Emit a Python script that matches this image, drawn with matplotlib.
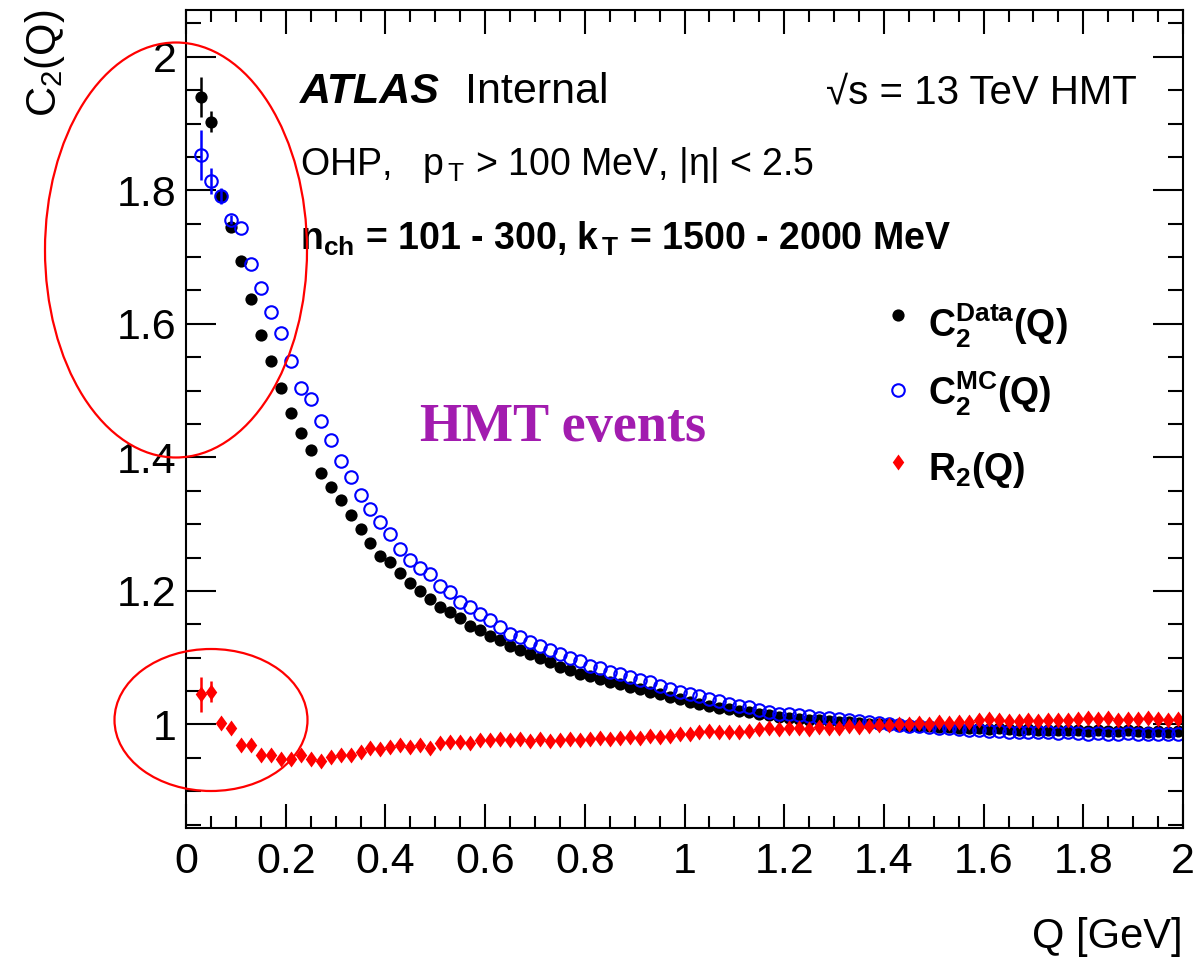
import numpy as np
import matplotlib
matplotlib.use("Agg")
import matplotlib.pyplot as plt
from matplotlib.patches import Ellipse
from matplotlib.ticker import MultipleLocator, FuncFormatter

plt.rcParams['font.family'] = ['Liberation Sans', 'DejaVu Sans']
plt.rcParams['mathtext.fontset'] = 'custom'
plt.rcParams['mathtext.rm'] = 'Liberation Sans'
plt.rcParams['mathtext.it'] = 'Liberation Sans:italic'
plt.rcParams['mathtext.bf'] = 'Liberation Sans:bold'

# bin centres of the 20 MeV Q bins
q = np.round(np.arange(0.03, 2.0, 0.02), 2)

c2_data = [1.940, 1.903, 1.792, 1.745, 1.694, 1.637, 1.583, 1.544, 1.504, 1.466,
           1.437, 1.411, 1.376, 1.355, 1.336, 1.313, 1.293, 1.272, 1.253, 1.243,
           1.227, 1.212, 1.200, 1.188, 1.176, 1.168, 1.160, 1.148, 1.142, 1.133,
           1.126, 1.117, 1.111, 1.105, 1.100, 1.093, 1.086, 1.081, 1.076, 1.073,
           1.068, 1.064, 1.060, 1.056, 1.053, 1.048, 1.045, 1.041, 1.038, 1.034,
           1.031, 1.028, 1.025, 1.023, 1.020, 1.019, 1.016, 1.014, 1.011, 1.010,
           1.008, 1.007, 1.006, 1.005, 1.004, 1.003, 1.002, 1.001, 1.000, 1.000,
           0.999, 0.998, 0.998, 0.997, 0.996, 0.996, 0.995, 0.995, 0.994, 0.993,
           0.994, 0.993, 0.992, 0.993, 0.992, 0.991, 0.992, 0.991, 0.991, 0.990,
           0.991, 0.990, 0.990, 0.991, 0.990, 0.989, 0.990, 0.989, 0.990]

c2_mc = [1.853, 1.814, 1.791, 1.756, 1.743, 1.689, 1.654, 1.617, 1.586, 1.544,
         1.504, 1.488, 1.454, 1.426, 1.394, 1.371, 1.344, 1.322, 1.303, 1.286,
         1.263, 1.246, 1.235, 1.226, 1.207, 1.198, 1.183, 1.176, 1.166, 1.157,
         1.146, 1.136, 1.131, 1.123, 1.118, 1.112, 1.106, 1.100, 1.095, 1.088,
         1.085, 1.079, 1.075, 1.071, 1.066, 1.063, 1.058, 1.053, 1.048, 1.045,
         1.043, 1.038, 1.035, 1.030, 1.028, 1.026, 1.021, 1.019, 1.016, 1.015,
         1.014, 1.012, 1.010, 1.009, 1.008, 1.006, 1.005, 1.004, 1.002, 1.001,
         0.999, 0.998, 0.997, 0.996, 0.994, 0.994, 0.993, 0.992, 0.991, 0.990,
         0.990, 0.989, 0.989, 0.988, 0.989, 0.988, 0.987, 0.988, 0.987, 0.986,
         0.987, 0.986, 0.986, 0.987, 0.986, 0.985, 0.986, 0.985, 0.986]

r2 = [1.045, 1.049, 1.002, 0.994, 0.970, 0.969, 0.955, 0.954, 0.948, 0.949,
      0.955, 0.948, 0.946, 0.951, 0.955, 0.954, 0.959, 0.965, 0.964, 0.966,
      0.970, 0.967, 0.969, 0.965, 0.973, 0.974, 0.974, 0.973, 0.976, 0.976,
      0.978, 0.976, 0.978, 0.975, 0.978, 0.975, 0.976, 0.978, 0.976, 0.978,
      0.980, 0.978, 0.979, 0.981, 0.980, 0.983, 0.981, 0.983, 0.985, 0.986,
      0.988, 0.990, 0.989, 0.988, 0.988, 0.990, 0.993, 0.995, 0.993, 0.995,
      0.994, 0.993, 0.996, 0.995, 0.995, 0.997, 0.996, 0.998, 0.999, 0.999,
      1.000, 1.001, 1.002, 1.001, 1.003, 1.002, 1.004, 1.003, 1.006, 1.008,
      1.006, 1.005, 1.005, 1.006, 1.005, 1.006, 1.007, 1.006, 1.008, 1.009,
      1.008, 1.009, 1.007, 1.008, 1.008, 1.009, 1.008, 1.007, 1.008]

# stat. errors, only big enough to see in the first bins
err_data = [0.030, 0.015, 0.010, 0.006]
err_mc = [0.038, 0.019, 0.012, 0.007]
err_r2 = [0.026, 0.016, 0.006, 0.004]

fig = plt.figure(figsize=(11.98, 9.71), dpi=100)
ax = fig.add_axes([0.1553, 0.1473, 0.8322, 0.8424])

# ROOT-like diamond, a bit fatter than matplotlib's 'd'
diamond = [(-0.36, 0.0), (0.0, 0.5), (0.36, 0.0), (0.0, -0.5), (-0.36, 0.0)]
data_style = dict(marker='o', color='black', ms=8.8, mew=0, ls='none')
mc_style = dict(marker='o', mfc='none', mec='blue', ms=9.0, mew=1.5, ls='none')
r2_style = dict(marker=diamond, color='red', ms=11.5, mew=0, ls='none')

n = len(err_data)
ax.errorbar(q[:n], c2_data[:n], yerr=err_data, fmt='none', ecolor='black', elinewidth=1.8)
ax.plot(q, c2_data, **data_style)
ax.errorbar(q[:n], c2_mc[:n], yerr=err_mc, fmt='none', ecolor='blue', elinewidth=1.8)
ax.plot(q, c2_mc, **mc_style)
ax.errorbar(q[:n], r2[:n], yerr=err_r2, fmt='none', ecolor='red', elinewidth=1.8)
ax.plot(q, r2, **r2_style)

ax.set_xlim(0, 2)
ax.set_ylim(0.845, 2.07)
ax.xaxis.set_major_locator(MultipleLocator(0.2))
ax.xaxis.set_minor_locator(MultipleLocator(0.05))
ax.yaxis.set_major_locator(MultipleLocator(0.2))
ax.yaxis.set_minor_locator(MultipleLocator(0.05))
fmt = FuncFormatter(lambda v, p: '%g' % round(v, 2))
ax.xaxis.set_major_formatter(fmt)
ax.yaxis.set_major_formatter(fmt)

ax.tick_params(which='both', direction='in', top=True, right=True, width=1.5, labelsize=31)
ax.tick_params(axis='y', which='major', length=21.6, pad=7)
ax.tick_params(axis='y', which='minor', length=10.8)
ax.tick_params(axis='x', which='major', length=17, pad=10)
ax.tick_params(axis='x', which='minor', length=8.6)
for s in ax.spines.values():
    s.set_linewidth(1.5)

ax.text(-0.141, 1.0, r'C$_2$(Q)', rotation=90, ha='center', va='top',
        fontsize=30, transform=ax.transAxes)
ax.text(1.0, -0.133, 'Q [GeV]', ha='right', va='center', fontsize=30, transform=ax.transAxes)

# ATLAS labels
ax.text(0.114, 0.886, 'ATLAS', fontsize=31, fontweight='bold', style='italic',
        transform=ax.transAxes)
ax.text(0.280, 0.886, 'Internal', fontsize=31, transform=ax.transAxes)
ax.text(0.954, 0.886, '√s = 13 TeV HMT', fontsize=29, ha='right', transform=ax.transAxes)
ax.text(0.114, 0.798, r'OHP,   p$_{\,\mathrm{T}}$ > 100 MeV, |η| < 2.5', fontsize=27,
        transform=ax.transAxes)
ax.text(0.114, 0.707, r'$\mathbf{n_{ch}}$ = 101 - 300, $\mathbf{k_{\,T}}$ = 1500 - 2000 MeV',
        fontsize=27, fontweight='bold', transform=ax.transAxes)

ax.text(0.235, 0.473, 'HMT events', fontsize=39, fontweight='bold', color='#A21CAF',
        family='Liberation Serif', transform=ax.transAxes)

# legend
leg_rows = [(0.627, 0.600, data_style, r'$\mathbf{C_2^{Data}(Q)}$'),
            (0.535, 0.516, mc_style, r'$\mathbf{C_2^{MC}(Q)}$'),
            (0.447, 0.425, r2_style, r'$\mathbf{R_2(Q)}$')]
for ym, yt, style, lab in leg_rows:
    ax.plot([0.714], [ym], transform=ax.transAxes, clip_on=False, **style)
    ax.text(0.744, yt, lab, fontsize=27, transform=ax.transAxes)

# red circles drawn on top of the plot
for cx, cy, w, h in [(176, 250, 262, 415), (211, 720, 193, 142)]:
    fig.add_artist(Ellipse((cx / 1198, 1 - cy / 971), w / 1198, h / 971,
                           transform=fig.transFigure, fill=False, ec='red', lw=1.6))

fig.savefig('out.png', dpi=100)
